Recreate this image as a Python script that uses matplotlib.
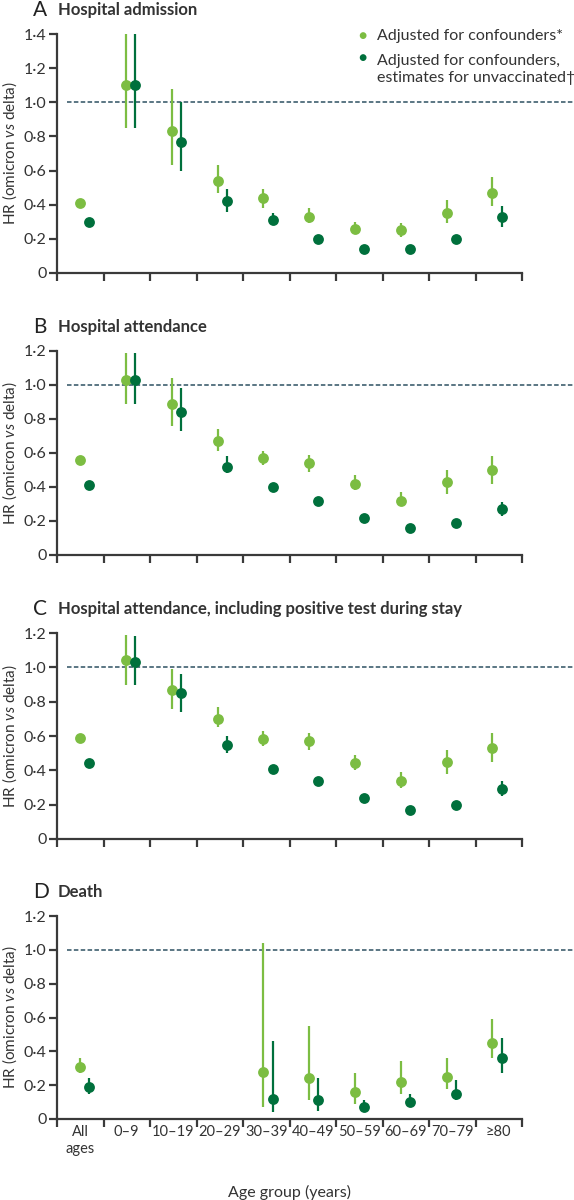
import numpy as np
import matplotlib
matplotlib.use("Agg")
import matplotlib.pyplot as plt

plt.rcParams['font.family'] = ['Lato', 'DejaVu Sans']
plt.rcParams['mathtext.fontset'] = 'custom'
plt.rcParams['mathtext.it'] = 'Lato:italic'
plt.rcParams['mathtext.rm'] = 'Lato'

groups = ['All\nages', '0–9', '10–19', '20–29', '30–39', '40–49',
          '50–59', '60–69', '70–79', '≥80']

# A: hospital admission
a_adj = [0.41, 1.10, 0.83, 0.54, 0.44, 0.33, 0.26, 0.25, 0.35, 0.47]
a_adj_lo = [0.40, 0.85, 0.63, 0.47, 0.38, 0.29, 0.23, 0.21, 0.29, 0.39]
a_adj_hi = [0.42, 1.45, 1.08, 0.63, 0.49, 0.38, 0.30, 0.29, 0.43, 0.56]
a_unv = [0.30, 1.10, 0.77, 0.42, 0.31, 0.20, 0.14, 0.14, 0.20, 0.33]
a_unv_lo = [0.29, 0.85, 0.60, 0.36, 0.28, 0.19, 0.13, 0.13, 0.19, 0.27]
a_unv_hi = [0.31, 1.45, 1.00, 0.49, 0.35, 0.21, 0.15, 0.15, 0.21, 0.39]

# B: hospital attendance
b_adj = [0.56, 1.03, 0.89, 0.67, 0.57, 0.54, 0.42, 0.32, 0.43, 0.50]
b_adj_lo = [0.55, 0.89, 0.76, 0.61, 0.53, 0.49, 0.38, 0.29, 0.36, 0.42]
b_adj_hi = [0.57, 1.19, 1.04, 0.74, 0.61, 0.59, 0.47, 0.37, 0.50, 0.58]
b_unv = [0.41, 1.03, 0.84, 0.52, 0.40, 0.32, 0.22, 0.16, 0.19, 0.27]
b_unv_lo = [0.40, 0.89, 0.73, 0.48, 0.39, 0.31, 0.21, 0.15, 0.18, 0.23]
b_unv_hi = [0.42, 1.19, 0.98, 0.58, 0.41, 0.33, 0.23, 0.17, 0.20, 0.31]

# C: hospital attendance incl. positive test during stay
c_adj = [0.59, 1.04, 0.87, 0.70, 0.58, 0.57, 0.44, 0.34, 0.45, 0.53]
c_adj_lo = [0.58, 0.90, 0.76, 0.65, 0.54, 0.52, 0.40, 0.30, 0.38, 0.45]
c_adj_hi = [0.60, 1.19, 0.99, 0.77, 0.63, 0.62, 0.49, 0.39, 0.52, 0.62]
c_unv = [0.44, 1.03, 0.85, 0.55, 0.41, 0.34, 0.24, 0.17, 0.20, 0.29]
c_unv_lo = [0.43, 0.90, 0.74, 0.50, 0.40, 0.33, 0.23, 0.16, 0.19, 0.25]
c_unv_hi = [0.45, 1.18, 0.96, 0.60, 0.42, 0.35, 0.25, 0.18, 0.21, 0.34]

# D: death (no estimates for 0-29)
nan = np.nan
d_adj = [0.31, nan, nan, nan, 0.28, 0.24, 0.16, 0.22, 0.25, 0.45]
d_adj_lo = [0.27, nan, nan, nan, 0.07, 0.11, 0.09, 0.15, 0.18, 0.36]
d_adj_hi = [0.36, nan, nan, nan, 1.04, 0.55, 0.27, 0.34, 0.36, 0.59]
d_unv = [0.19, nan, nan, nan, 0.12, 0.11, 0.07, 0.10, 0.15, 0.36]
d_unv_lo = [0.15, nan, nan, nan, 0.04, 0.05, 0.04, 0.07, 0.11, 0.27]
d_unv_hi = [0.24, nan, nan, nan, 0.46, 0.24, 0.11, 0.15, 0.23, 0.48]

panels = [
    ('A', 'Hospital admission', 1.4, a_adj, a_adj_lo, a_adj_hi, a_unv, a_unv_lo, a_unv_hi),
    ('B', 'Hospital attendance', 1.2, b_adj, b_adj_lo, b_adj_hi, b_unv, b_unv_lo, b_unv_hi),
    ('C', 'Hospital attendance, including positive test during stay', 1.2,
     c_adj, c_adj_lo, c_adj_hi, c_unv, c_unv_lo, c_unv_hi),
    ('D', 'Death', 1.2, d_adj, d_adj_lo, d_adj_hi, d_unv, d_unv_lo, d_unv_hi),
]

light = '#7cbd42'
dark = '#00703c'
axcol = '#3a3a3a'
txtcol = '#333333'

W, H = 574, 1200
fig = plt.figure(figsize=(W / 100, H / 100), dpi=100)

# pixel boxes (top, bottom) of each plot area
boxes = [(34, 273), (351, 555), (633, 839), (916, 1119)]
left_px = 57
unit_px = 46.5
axw_px = W - left_px
xmax = 9.5 + (axw_px - 10 * unit_px) / unit_px

x = np.arange(10)
x_adj = x * 0.985
x_unv = x * 0.985 + 0.195

for (letter, title, ytop, adj, adj_lo, adj_hi, unv, unv_lo, unv_hi), (t, b) in zip(panels, boxes):
    ax = fig.add_axes([left_px / W, 1 - b / H, axw_px / W, (b - t) / H])
    ax.set_xlim(-0.5, xmax)
    ax.set_ylim(0, ytop)

    for xs, v, lo, hi, col in [(x_adj, adj, adj_lo, adj_hi, light),
                               (x_unv, unv, unv_lo, unv_hi, dark)]:
        ax.vlines(xs, lo, hi, color=col, lw=1.6, zorder=2)
        ax.plot(xs, v, 'o', color=col, ms=7.8, mec='none', zorder=3)

    ax.axhline(1.0, xmin=0.02, color='#4d6b7a', lw=1.3, ls=(0, (2.5, 1.3)), zorder=1)

    for s in ['top', 'right']:
        ax.spines[s].set_visible(False)
    for s in ['left', 'bottom']:
        ax.spines[s].set_color(axcol)
        ax.spines[s].set_linewidth(1.6)
    ax.spines['bottom'].set_bounds(-0.5, 9.5)
    ax.spines['left'].set_bounds(0, ytop)

    yt = np.arange(0, ytop + 0.01, 0.2)
    ax.set_yticks(yt)
    ax.set_yticklabels(['0'] + [f'{v:.1f}'.replace('.', '·') for v in yt[1:]],
                       fontsize=11.5, color=txtcol)
    ax.tick_params(axis='y', length=6, width=1.6, color=axcol, pad=1.5)

    ax.set_xticks(np.arange(-0.5, 10, 1.0))
    ax.set_xticklabels([])
    ax.tick_params(axis='x', which='major', length=6, width=1.6, color=axcol)
    ax.set_xticks(x, minor=True)
    ax.tick_params(axis='x', which='minor', length=0, pad=4)
    if letter == 'D':
        ax.set_xticklabels(groups, minor=True, fontsize=10.5, color=txtcol,
                           linespacing=1.3, va='top')
        ax.set_xlabel('Age group (years)', fontsize=11.5, color=txtcol)
        ax.xaxis.set_label_coords((5 * unit_px) / axw_px, -(1192 - b) / (b - t),
                                  transform=ax.transAxes)
        ax.xaxis.label.set_va('center')

    ax.set_ylabel(r'HR (omicron $\it{vs}$ delta)', fontsize=11, color=txtcol)
    ax.yaxis.set_label_coords(-(left_px - 19) / axw_px, 0.5)

    fig.text(33 / W, 1 - (t - 24) / H, letter, fontsize=15, color='#222222',
             va='center', ha='left')
    fig.text(58 / W, 1 - (t - 24) / H, title, fontsize=12, fontweight='bold',
             color=txtcol, va='center', ha='left')

# legend in panel A
fig.text(362 / W, 1 - 36 / H, '●', fontsize=10, color=light, va='center', ha='center')
fig.text(362 / W, 1 - 58 / H, '●', fontsize=10, color=dark, va='center', ha='center')
fig.text(377 / W, 1 - 36 / H, 'Adjusted for confounders*', fontsize=11.5,
         color=txtcol, va='center', ha='left')
fig.text(377 / W, 1 - 69.5 / H, 'Adjusted for confounders,\nestimates for unvaccinated†',
         fontsize=11.5, color=txtcol, va='center', ha='left', linespacing=1.3)

fig.savefig('out.png', dpi=100)
